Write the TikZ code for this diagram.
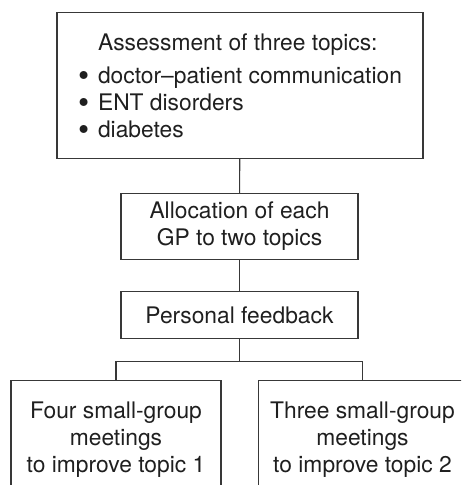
\documentclass[tikz,border=0pt]{standalone}
\usepackage{fontspec}
\setmainfont{TeX Gyre Heros}
\usepackage{graphicx}
\usepackage{tikz}
\usetikzlibrary{positioning}
\definecolor{ink}{gray}{.12}
\definecolor{rule}{gray}{.22}
\newcommand{\bul}{\makebox[20pt][l]{\smash{\raisebox{-3.3pt}{\scalebox{1.4}{\textbullet}}}}}

\begin{document}
\begin{tikzpicture}[x=1pt, y=-1pt,
        box/.style={draw=rule, line width=1.1pt, text=ink, align=center, inner sep=0pt,
            font=\fontsize{22.8}{27}\selectfont},
        link/.style={draw=rule, line width=1.1pt}
    ]
        \path[use as bounding box, clip] (0,0) rectangle (461,485);
        % cajas
        \node (assess) [box, anchor=north, minimum width=366, minimum height=146, align=left]
            at (240, 12) {\hspace*{20pt}Assessment of three topics:\\[6pt]
            \bul doctor–patient communication\\
            \bul ENT disorders\\
            \bul diabetes};
        \node (alloc) [box, anchor=north, minimum width=237, minimum height=66]
            at (239.5, 193) {Allocation of each\\GP to two topics};
        \node (feed) [box, anchor=north, minimum width=237, minimum height=47]
            at (239.5, 291) {Personal feedback};
        \node (topic1) [box, anchor=north, minimum width=210, minimum height=118]
            at (116, 380) {Four small-group\\meetings\\to improve topic 1};
        \node (topic2) [box, anchor=north, minimum width=208, minimum height=118]
            at (362.5, 380) {Three small-group\\meetings\\to improve topic 2};
        \coordinate (fork) at (239.5, 361.7);
        % lineas
        \draw[link] (assess) -- (alloc);
        \draw[link] (alloc) -- (feed);
        \draw[link] (feed) -- (fork);
        \draw[link] (fork) -| (topic1);
        \draw[link] (fork) -| (topic2);
    \end{tikzpicture}
\end{document}
